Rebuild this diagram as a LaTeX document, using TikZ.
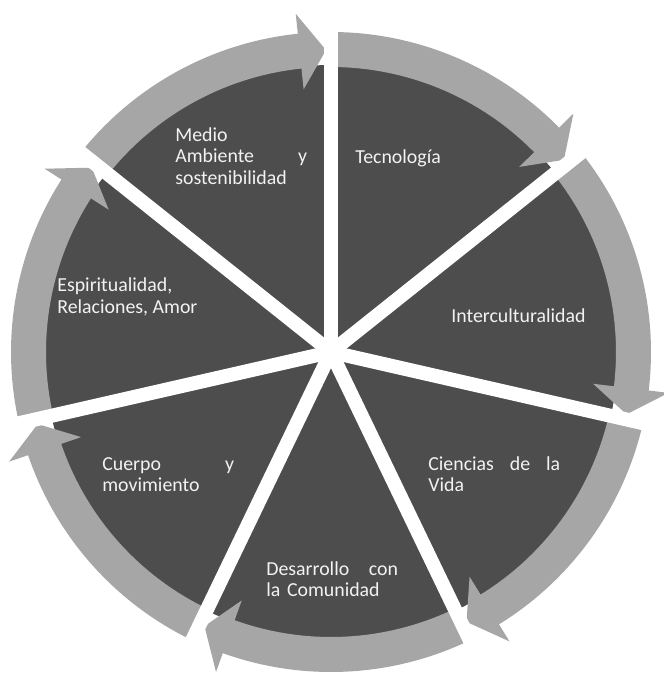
\documentclass[tikz,border=0pt]{standalone}
\usepackage{fontspec}
\setmainfont{Carlito}
\definecolor{sectorgray}{HTML}{4D4D4D}
\definecolor{ringgray}{HTML}{A6A6A6}
\definecolor{labelwhite}{HTML}{F2F2F2}
\tikzset{
  label text/.style={text=labelwhite, font=\fontsize{11.3}{12.5}\selectfont,
    inner sep=0pt, anchor=base west, align=left},
  block text/.style={label text, text width=75pt},
  gap line/.style={white, line width=0.28cm},
}
\begin{document}
\begin{tikzpicture}[x=0.02cm, y=0.02cm]
\fill[white] (-331,-329) rectangle (333,352);
\useasboundingbox (-331,-329) rectangle (333,352);

% Sectors
\foreach \k in {0,...,6}{
  \pgfmathsetmacro{\as}{90-360/7*\k}
  \pgfmathsetmacro{\ae}{\as-360/7}
  \fill[sectorgray] (0,0) -- (\as:287) arc[start angle=\as, end angle=\ae, radius=287] -- cycle;
}

% Arrows round the circle
\foreach \k in {0,...,6}{
  \pgfmathsetmacro{\as}{90-360/7*\k}
  \pgfmathsetmacro{\at}{\as-360/7+0.95}
  \pgfmathsetmacro{\ab}{\at+5}
  \fill[ringgray] (\as:285) arc[start angle=\as, end angle=\ab, radius=285]
    -- (\ab:264) -- (\at:302) -- (\ab:340) -- (\ab:320)
    arc[start angle=\ab, end angle=\as, radius=320] -- cycle;
}

% Gaps
\foreach \k in {0,...,6}
  \draw[gap line] (0,0) -- ({90-360/7*\k}:350);

% Labels
\node[label text] (tecnologia) at (24,189) {Tecnología};
\node[label text] (intercultural) at (120,30) {Interculturalidad};
\node[block text] (ciencias) at (97,-118) {Ciencias\hfill de\hfill la\\ Vida};
\node[block text] (desarrollo) at (-65,-223) {Desarrollo\hfill con\\ la Comunidad};
\node[block text] (cuerpo) at (-229,-118) {Cuerpo\hfill y\\ movimiento};
\node[label text] (espiritualidad) at (-274,39) {Espiritualidad,\\ Relaciones, Amor};
\node[block text] (medio) at (-156,211) {Medio\\ Ambiente\hfill y\\ sostenibilidad};

\end{tikzpicture}
\end{document}
